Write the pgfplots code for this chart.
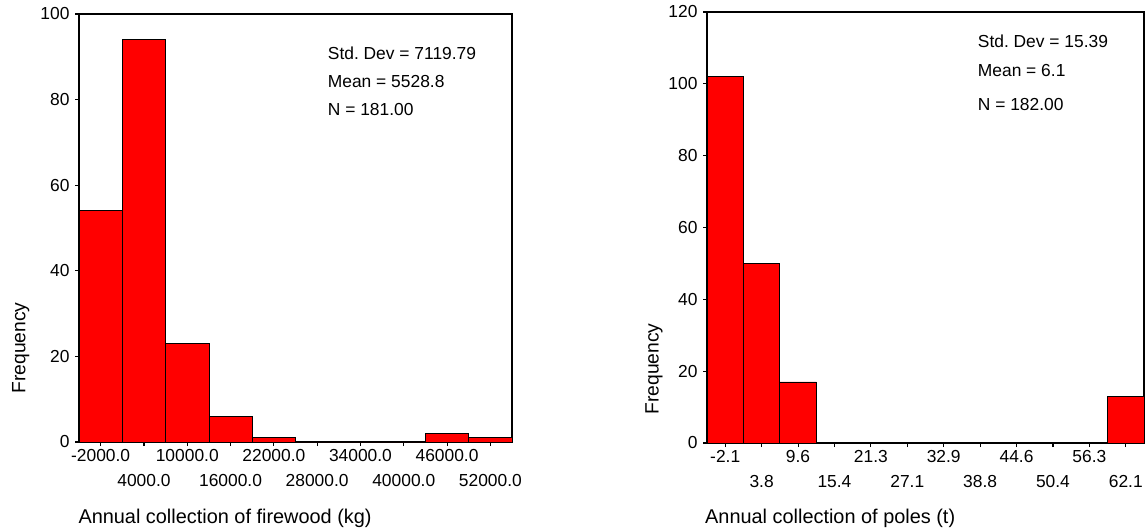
\documentclass[border=0pt]{standalone}
\usepackage{fontspec}
\setmainfont{Liberation Sans}
\usepackage{pgfplots}
\pgfplotsset{compat=1.18}
\frenchspacing
\begin{document}
\begin{tikzpicture}
\path[use as bounding box] (0pt,0pt) rectangle (1146pt,-531pt);
\pgfplotsset{
 hist/.style={
  scale only axis,
  axis line style={line width=1.1pt},
  tick style={black, line width=1.1pt},
  tick align=outside,
  major tick length=4pt,
  xtick pos=bottom, ytick pos=left,
  ymin=0,
  scaled x ticks=false, scaled y ticks=false,
  ticklabel style={font=\fontsize{17.4}{20}\selectfont},
  /pgf/number format/assume math mode=true,
  yticklabel style={xshift=-2pt},
  xticklabel style={text height=12.5pt, text depth=0pt, inner sep=0pt, yshift=-3pt},
  extra x tick style={xticklabel style={yshift=-25pt}},
  clip=false,
 }
}
% ---------- left: firewood ----------
\begin{axis}[hist,
  at={(79pt,-442pt)}, anchor=south west,
  width=433pt, height=428pt,
  xmin=-5000, xmax=55000, ymax=100,
  ytick={0,20,40,60,80,100},
  xtick={-2000,10000,22000,34000,46000},
  xticklabels={-2000.0,10000.0,22000.0,34000.0,46000.0},
  extra x ticks={4000,16000,28000,40000,52000},
  extra x tick labels={4000.0,16000.0,28000.0,40000.0,52000.0},
]
\addplot[ybar interval, fill=red, draw=black, line width=0.8pt] coordinates {
(-5000,54) (1000,94) (7000,23) (13000,6) (19000,1) (25000,0) (31000,0) (37000,0) (43000,2) (49000,1) (55000,0)};
\end{axis}
% ---------- right: poles ----------
\begin{axis}[hist,
  at={(707pt,-443pt)}, anchor=south west,
  width=437pt, height=431pt,
  xmin=-5.0182, xmax=65.0182, ymax=120,
  ytick={0,20,40,60,80,100,120},
  xtick={-2.1,9.5727,21.2455,32.9182,44.5909,56.2636},
  xticklabels={-2.1,9.6,21.3,32.9,44.6,56.3},
  extra x ticks={3.7364,15.4091,27.0818,38.7545,50.4273,62.1},
  extra x tick labels={3.8,15.4,27.1,38.8,50.4,62.1},
]
\addplot[ybar interval, fill=red, draw=black, line width=0.8pt] coordinates {
(-5.0182,102) (0.8182,50) (6.6545,17) (12.4909,0) (18.3273,0) (24.1636,0) (30.0,0) (35.8364,0) (41.6727,0) (47.5091,0) (53.3455,0) (59.1818,13) (65.0182,0)};
\end{axis}
% ---------- texts ----------
\begin{scope}[every node/.style={inner sep=0pt}]
\node[anchor=base west, font=\fontsize{17.4}{20}\selectfont] at (327.7pt,-59.3pt) {Std. Dev = 7119.79};
\node[anchor=base west, font=\fontsize{17.4}{20}\selectfont] at (327.7pt,-87.3pt) {Mean = 5528.8};
\node[anchor=base west, font=\fontsize{17.4}{20}\selectfont] at (327.7pt,-115.7pt) {N = 181.00};
\node[anchor=base west, font=\fontsize{17.4}{20}\selectfont] at (977.7pt,-47.7pt) {Std. Dev = 15.39};
\node[anchor=base west, font=\fontsize{17.4}{20}\selectfont] at (977.7pt,-76pt) {Mean = 6.1};
\node[anchor=base west, font=\fontsize{17.4}{20}\selectfont] at (977.7pt,-110.3pt) {N = 182.00};
\node[rotate=90, font=\fontsize{19.3}{22}\selectfont] at (20.7pt,-348pt) {Frequency};
\node[rotate=90, font=\fontsize{19.3}{22}\selectfont] at (654pt,-369pt) {Frequency};
\node[anchor=west, font=\fontsize{19.9}{22}\selectfont] at (78.3pt,-518pt) {Annual collection of firewood (kg)};
\node[anchor=west, font=\fontsize{19.9}{22}\selectfont] at (705pt,-518pt) {Annual collection of poles (t)};
\end{scope}
\end{tikzpicture}
\end{document}
